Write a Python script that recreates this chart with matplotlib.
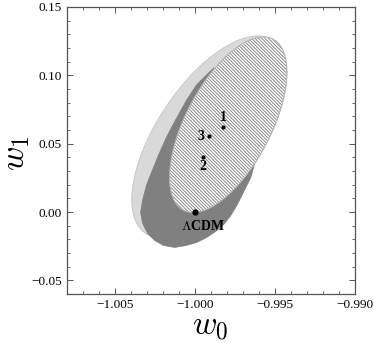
import numpy as np
import matplotlib
matplotlib.use("Agg")
import matplotlib.pyplot as plt
from matplotlib.ticker import MultipleLocator

plt.rcParams['font.family'] = ['Liberation Serif', 'DejaVu Serif']
plt.rcParams['mathtext.fontset'] = 'cm'
plt.rcParams['hatch.linewidth'] = 0.7
plt.rcParams['hatch.color'] = '#8a8a8a'

# fiducial models (w0, w1)
models = ['1', '2', '3', r'$\Lambda$CDM']
model_w0 = [-0.99822, -0.99950, -0.99912, -1.0000]
model_w1 = [0.0624, 0.0405, 0.0558, 0.0000]

# light grey ellipse (centred on model 3): centre, half-widths, correlation
light_c = (-0.99909, 0.0551)
light_s = (0.00484, 0.0737)
light_rho = 0.626

# hatched ellipse (centred on model 1)
hatch_c = (-0.99791, 0.0639)
hatch_s = (0.00366, 0.0642)
hatch_rho = 0.60

# dark grey contour outline, the upper right part
# is hidden under the hatched ellipse
dark_w0 = [-0.99881, -0.99988, -1.00050, -1.00119, -1.00175, -1.00225,
           -1.00263, -1.00300, -1.00325, -1.00338, -1.00325, -1.00294,
           -1.00250, -1.00194, -1.00125, -1.00056, -0.99988, -0.99925,
           -0.99869, -0.99819, -0.99775, -0.99738, -0.99706, -0.99675,
           -0.99650, -0.99619, -0.99688, -0.99781]
dark_w1 = [0.1055, 0.0931, 0.0821, 0.0675, 0.0551, 0.0420,
           0.0310, 0.0201, 0.0091, -0.0004, -0.0084, -0.0157,
           -0.0208, -0.0245, -0.0259, -0.0245, -0.0223, -0.0186,
           -0.0142, -0.0091, -0.0026, 0.0047, 0.0120, 0.0193,
           0.0252, 0.0383, 0.0675, 0.0931]


def ellipse(c, s, rho, n=300):
    t = np.linspace(0, 2 * np.pi, n)
    d = np.arccos(rho)
    return c[0] + s[0] * np.cos(t), c[1] + s[1] * np.cos(t - d)


fig = plt.figure(figsize=(3.74, 3.46), dpi=100)
ax = fig.add_axes([0.178, 0.150, 0.771, 0.830])

ex, ey = ellipse(light_c, light_s, light_rho)
ax.fill(ex, ey, facecolor='#d9d9d9', edgecolor='#c4c4c4', lw=0.6, zorder=1)

ax.fill(dark_w0, dark_w1, facecolor='#808080', edgecolor='#808080', lw=0.5,
        zorder=2)

hx, hy = ellipse(hatch_c, hatch_s, hatch_rho)
ax.fill(hx, hy, facecolor='white', edgecolor='none', zorder=3)
ax.fill(hx, hy, facecolor='none', edgecolor='#8a8a8a', hatch='\\' * 10,
        lw=0, zorder=4)
ax.plot(hx, hy, color='#b5b5b5', lw=0.8, zorder=5)

# model points and labels
sizes = [2.0, 2.0, 2.0, 3.5]
offsets = [(0, 2), (0, -12), (-6, -5), (6, -15)]
for name, x, y, ms, off in zip(models, model_w0, model_w1, sizes, offsets):
    ax.plot(x, y, 'o', color='black', ms=ms, zorder=6)
    ax.annotate(name, (x, y), xytext=off, textcoords='offset points',
                ha='center', va='bottom', fontsize=10, fontweight='bold',
                zorder=7)

ax.set_xlim(-1.008, -0.990)
ax.set_ylim(-0.06, 0.15)
ax.xaxis.set_major_locator(MultipleLocator(0.005))
ax.xaxis.set_minor_locator(MultipleLocator(0.001))
ax.yaxis.set_major_locator(MultipleLocator(0.05))
ax.yaxis.set_minor_locator(MultipleLocator(0.01))
ax.xaxis.set_major_formatter(plt.FuncFormatter(lambda v, p: ('%.3f' % v).replace('-', '\u2212')))
ax.yaxis.set_major_formatter(plt.FuncFormatter(lambda v, p: ('%.2f' % v).replace('-', '\u2212')))
ax.tick_params(which='both', direction='in', top=True, right=True,
               labelsize=9.5, color='#555555')
ax.tick_params(which='major', length=4, width=0.7)
ax.tick_params(which='minor', length=2, width=0.6)
for sp in ax.spines.values():
    sp.set_color('#555555')
    sp.set_linewidth(0.9)

ax.set_xlabel(r'$w_0$', fontsize=24)
ax.set_ylabel(r'$w_1$', fontsize=24)
ax.xaxis.set_label_coords(0.5, -0.06)
ax.yaxis.set_label_coords(-0.12, 0.49)

fig.savefig('out.png', dpi=100)
